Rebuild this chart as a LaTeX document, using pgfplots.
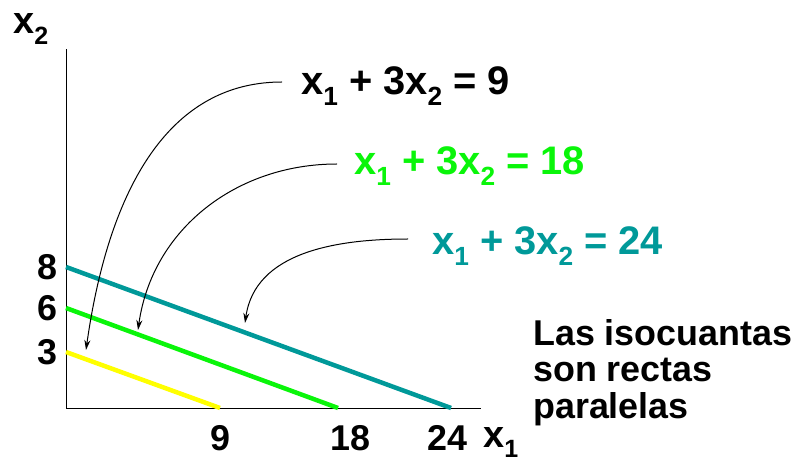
\documentclass[border=0pt]{standalone}
\usepackage{fontspec}
\setmainfont{Liberation Sans}
\usepackage{graphicx}
\usepackage{pgfplots}
\pgfplotsset{compat=1.18}
\usetikzlibrary{arrows.meta}
\definecolor{tealA}{RGB}{0,153,153}
\definecolor{greenA}{RGB}{10,245,10}
\definecolor{yellowA}{RGB}{255,255,0}
\newcommand\sub[1]{\raisebox{-0.27em}{\scalebox{0.66}{#1}}}
\newcommand\fs[1]{\fontsize{#1}{#1}\selectfont\bfseries}

\begin{document}
\begin{tikzpicture}[x=1bp,y=-1bp]
\path[use as bounding box] (0,0) rectangle (796,462);
\begin{axis}[
  at={(66bp,-408bp)}, anchor=south west,
  scale only axis, width=415bp, height=359bp,
  xmin=0, xmax=25.59, ymin=0, ymax=18.63,
  x coord trafo/.code={\pgfmathparse{(#1<=9) ? (#1*154/9) : ((#1<=18) ? (154+(#1-9)*118/9) : (272+(#1-18)*113/6))}},
  x coord inv trafo/.code={\pgfmathparse{(#1<=154) ? (#1*9/154) : ((#1<=272) ? (9+(#1-154)*9/118) : (18+(#1-272)*6/113))}},
  y coord trafo/.code={\pgfmathparse{(#1<=3) ? (#1*56/3) : ((#1<=6) ? (56+(#1-3)*44/3) : (100+(#1-6)*41/2))}},
  y coord inv trafo/.code={\pgfmathparse{(#1<=56) ? (#1*3/56) : ((#1<=100) ? (3+(#1-56)*3/44) : (6+(#1-100)*2/41))}},
  axis x line=bottom, axis y line=left,
  axis line style={-, line width=1bp, black},
  xtick={9,18,24}, xticklabels={9,{\hspace*{24bp}18},{24\hspace*{8bp}}},
  ytick={3,6,8}, yticklabels={3,6,8},
  major tick length=0pt,
  tick label style={font=\fs{36}},
  xticklabel style={anchor=base, yshift=-42bp},
  yticklabel style={anchor=east, xshift=-5bp},
  clip=false,
]
\addplot[yellowA, line width=4.5bp] coordinates {(0,3) (9,0)};
\addplot[greenA, line width=4.5bp] coordinates {(0,6) (18,0)};
\addplot[tealA, line width=4.5bp] coordinates {(0,8) (24,0)};
\end{axis}
\node[anchor=base west, inner sep=0pt, font=\fs{38}] at (483,447) {x\sub{1}};
\node[anchor=base west, inner sep=0pt, font=\fs{38}] at (13,34) {x\sub{2}};

\node[anchor=base west, inner sep=0pt, font=\fs{40}, text=black] at (301,95) {x\sub{1} + 3x\sub{2} = 9};
\node[anchor=base west, inner sep=0pt, font=\fs{40}, text=greenA] at (354,175) {x\sub{1} + 3x\sub{2} = 18};
\node[anchor=base west, inner sep=0pt, font=\fs{40}, text=tealA] at (432,255) {x\sub{1} + 3x\sub{2} = 24};

\begin{scope}[line width=1bp, -{Stealth[length=10bp,width=6bp]}]
\draw (282,82) to[out=180,in=82] (86,350);
\draw (337,164) to[out=180,in=82] (138,330);
\draw (408,239) to[out=180,in=82] (245,323);
\end{scope}

\node[anchor=base west, inner sep=0pt, font=\fs{36}] at (533,346) {Las isocuantas};
\node[anchor=base west, inner sep=0pt, font=\fs{36}] at (533,382) {son rectas};
\node[anchor=base west, inner sep=0pt, font=\fs{36}] at (533,418) {paralelas};
\end{tikzpicture}
\end{document}
